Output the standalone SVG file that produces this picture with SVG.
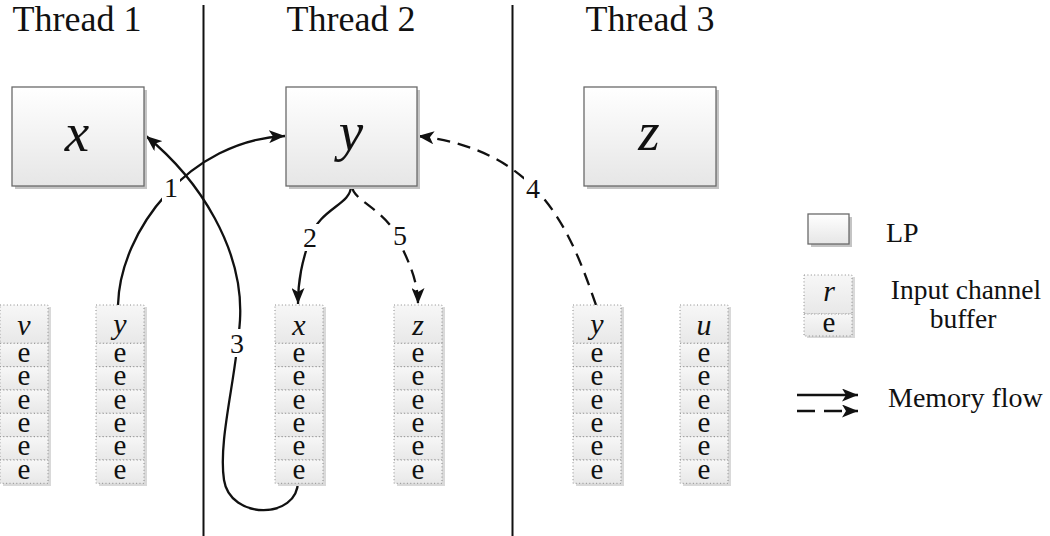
<svg xmlns="http://www.w3.org/2000/svg" width="1050" height="536" viewBox="0 0 1050 536" font-family="'Liberation Serif', 'Times New Roman', 'DejaVu Serif', serif">
<style>
text{font-family:"Liberation Serif","Times New Roman","DejaVu Serif",serif;fill:#111}
.title{font-size:36px;text-anchor:middle}
.big{font-size:55px;font-style:italic;text-anchor:middle}
.hd{font-size:30px;font-style:italic;text-anchor:middle}
.e{font-size:29px;text-anchor:middle}
.num{font-size:28px;text-anchor:middle}
.leg{font-size:28px}
.leg2{font-size:27.5px;text-anchor:middle}
.lp{fill:url(#gBox);stroke:#6a6a6a;stroke-width:1.3}
.sh{fill:#c4c4c4}
.cell{fill:url(#gCell);stroke:#8a8a8a;stroke-width:1;stroke-dasharray:1 2.4}
.csh{fill:#d9d9d9}
.sep{stroke:#111;stroke-width:2}
.conn{fill:none;stroke:#111;stroke-width:2.3}
.dash{stroke-dasharray:13 8}
.gap{fill:#fff}
</style>
<defs>
<linearGradient id="gBox" x1="0" y1="0" x2="0" y2="1">
<stop offset="0" stop-color="#ffffff"/>
<stop offset="1" stop-color="#e6e6e6"/>
</linearGradient>
<linearGradient id="gCell" x1="0" y1="0" x2="0" y2="1">
<stop offset="0" stop-color="#f7f7f7"/>
<stop offset="1" stop-color="#e8e8e8"/>
</linearGradient>
<marker id="ah" markerUnits="userSpaceOnUse" markerWidth="17" markerHeight="13" viewBox="0 0 17 13" refX="16" refY="6.5" orient="auto">
<path d="M0,0 L16,6.5 L0,13 L4,6.5 Z" fill="#111" stroke="none"/>
</marker>
<g id="col">
<rect class="csh" x="3" y="307" width="48" height="179"/>
<rect class="cell" x="0" y="305" width="48" height="38.3"/>
<rect class="cell" x="0" y="343.3" width="48" height="23.4"/>
<rect class="cell" x="0" y="366.7" width="48" height="23.3"/>
<rect class="cell" x="0" y="390" width="48" height="23.3"/>
<rect class="cell" x="0" y="413.3" width="48" height="23.4"/>
<rect class="cell" x="0" y="436.7" width="48" height="23.3"/>
<rect class="cell" x="0" y="460" width="48" height="23.3"/>
<text class="e" x="24" y="362">e</text>
<text class="e" x="24" y="385.3">e</text>
<text class="e" x="24" y="408.6">e</text>
<text class="e" x="24" y="432">e</text>
<text class="e" x="24" y="455.3">e</text>
<text class="e" x="24" y="478.6">e</text>
</g>
</defs>
<rect width="1050" height="536" fill="#fff"/>

<g id="titles">
<text class="title" x="77" y="31">Thread 1</text>
<text class="title" x="351" y="31">Thread 2</text>
<text class="title" x="650" y="31">Thread 3</text>
</g>
<g id="separators">
<line class="sep" x1="203.5" y1="5" x2="203.5" y2="536"/>
<line class="sep" x1="512.5" y1="5" x2="512.5" y2="536"/>
</g>

<g id="connectors">
<path id="c1" class="conn" d="M118,305 C120,230 190,140 285,136" marker-end="url(#ah)"/>
<path id="c3" class="conn" d="M298,481 C298,520 230,520 224,480 C218,440 236,380 240,320 C244,250 200,180 146,136" marker-end="url(#ah)"/>
<path id="c2" class="conn" d="M351,186 C351,205 320,208 310,238 C302,262 298,280 298,304" marker-end="url(#ah)"/>
<path id="c5" class="conn dash" d="M352,186 C352,200 385,210 396,235 C408,260 418,280 418,304" marker-end="url(#ah)"/>
<path id="c4" class="conn dash" d="M596,305 C570,230 540,150 418,136" marker-end="url(#ah)"/>
<rect class="gap" x="162" y="175" width="18" height="26"/>
<rect class="gap" x="301" y="224" width="18" height="27"/>
<rect class="gap" x="391" y="224" width="18" height="26"/>
<rect class="gap" x="228" y="329" width="18" height="28"/>
<rect class="gap" x="524" y="175" width="18" height="27"/>
<text class="num" x="171" y="197">1</text>
<text class="num" x="310" y="247">2</text>
<text class="num" x="400" y="245">5</text>
<text class="num" x="237" y="353">3</text>
<text class="num" x="533" y="198">4</text>
</g>

<g id="lp-x">
<rect class="sh" x="15" y="90" width="132" height="99"/>
<rect class="lp" x="12" y="87" width="132" height="99"/>
<text class="big" x="77" y="151">x</text>
</g>
<g id="lp-y">
<rect class="sh" x="289" y="90" width="131" height="99"/>
<rect class="lp" x="286" y="87" width="131" height="99"/>
<text class="big" x="351" y="150">y</text>
</g>
<g id="lp-z">
<rect class="sh" x="587" y="90" width="132" height="99"/>
<rect class="lp" x="584" y="87" width="132" height="99"/>
<text class="big" x="649" y="150">z</text>
</g>

<g id="buf-v"><use href="#col" x="0"/><text class="hd" x="24" y="335">v</text></g>
<g id="buf-y1"><use href="#col" x="96"/><text class="hd" x="120" y="334">y</text></g>
<g id="buf-x"><use href="#col" x="275"/><text class="hd" x="299" y="335">x</text></g>
<g id="buf-z"><use href="#col" x="394"/><text class="hd" x="418" y="335">z</text></g>
<g id="buf-y3"><use href="#col" x="573"/><text class="hd" x="597" y="334">y</text></g>
<g id="buf-u"><use href="#col" x="680"/><text class="hd" x="704" y="335">u</text></g>

<g id="legend-lp">
<rect class="sh" x="811" y="217" width="41" height="30"/>
<rect class="lp" x="808" y="214" width="41" height="30"/>
<text class="leg" x="886" y="242">LP</text>
</g>
<g id="legend-buffer">
<rect class="csh" x="807" y="277" width="48" height="61"/>
<rect class="cell" x="804" y="275" width="48" height="39"/>
<rect class="cell" x="804" y="314" width="48" height="22"/>
<text class="hd" x="829" y="301">r</text>
<text class="e" x="829" y="332">e</text>
<text class="leg2" x="966" y="299">Input channel</text>
<text class="leg2" x="963" y="328">buffer</text>
</g>
<g id="legend-flow">
<path class="conn" d="M797,395 H858" marker-end="url(#ah)"/>
<path class="conn" d="M797,411 H815 M824,411 H842 M850,411 H858" marker-end="url(#ah)"/>
<text class="leg" x="888" y="407">Memory flow</text>
</g>
</svg>
